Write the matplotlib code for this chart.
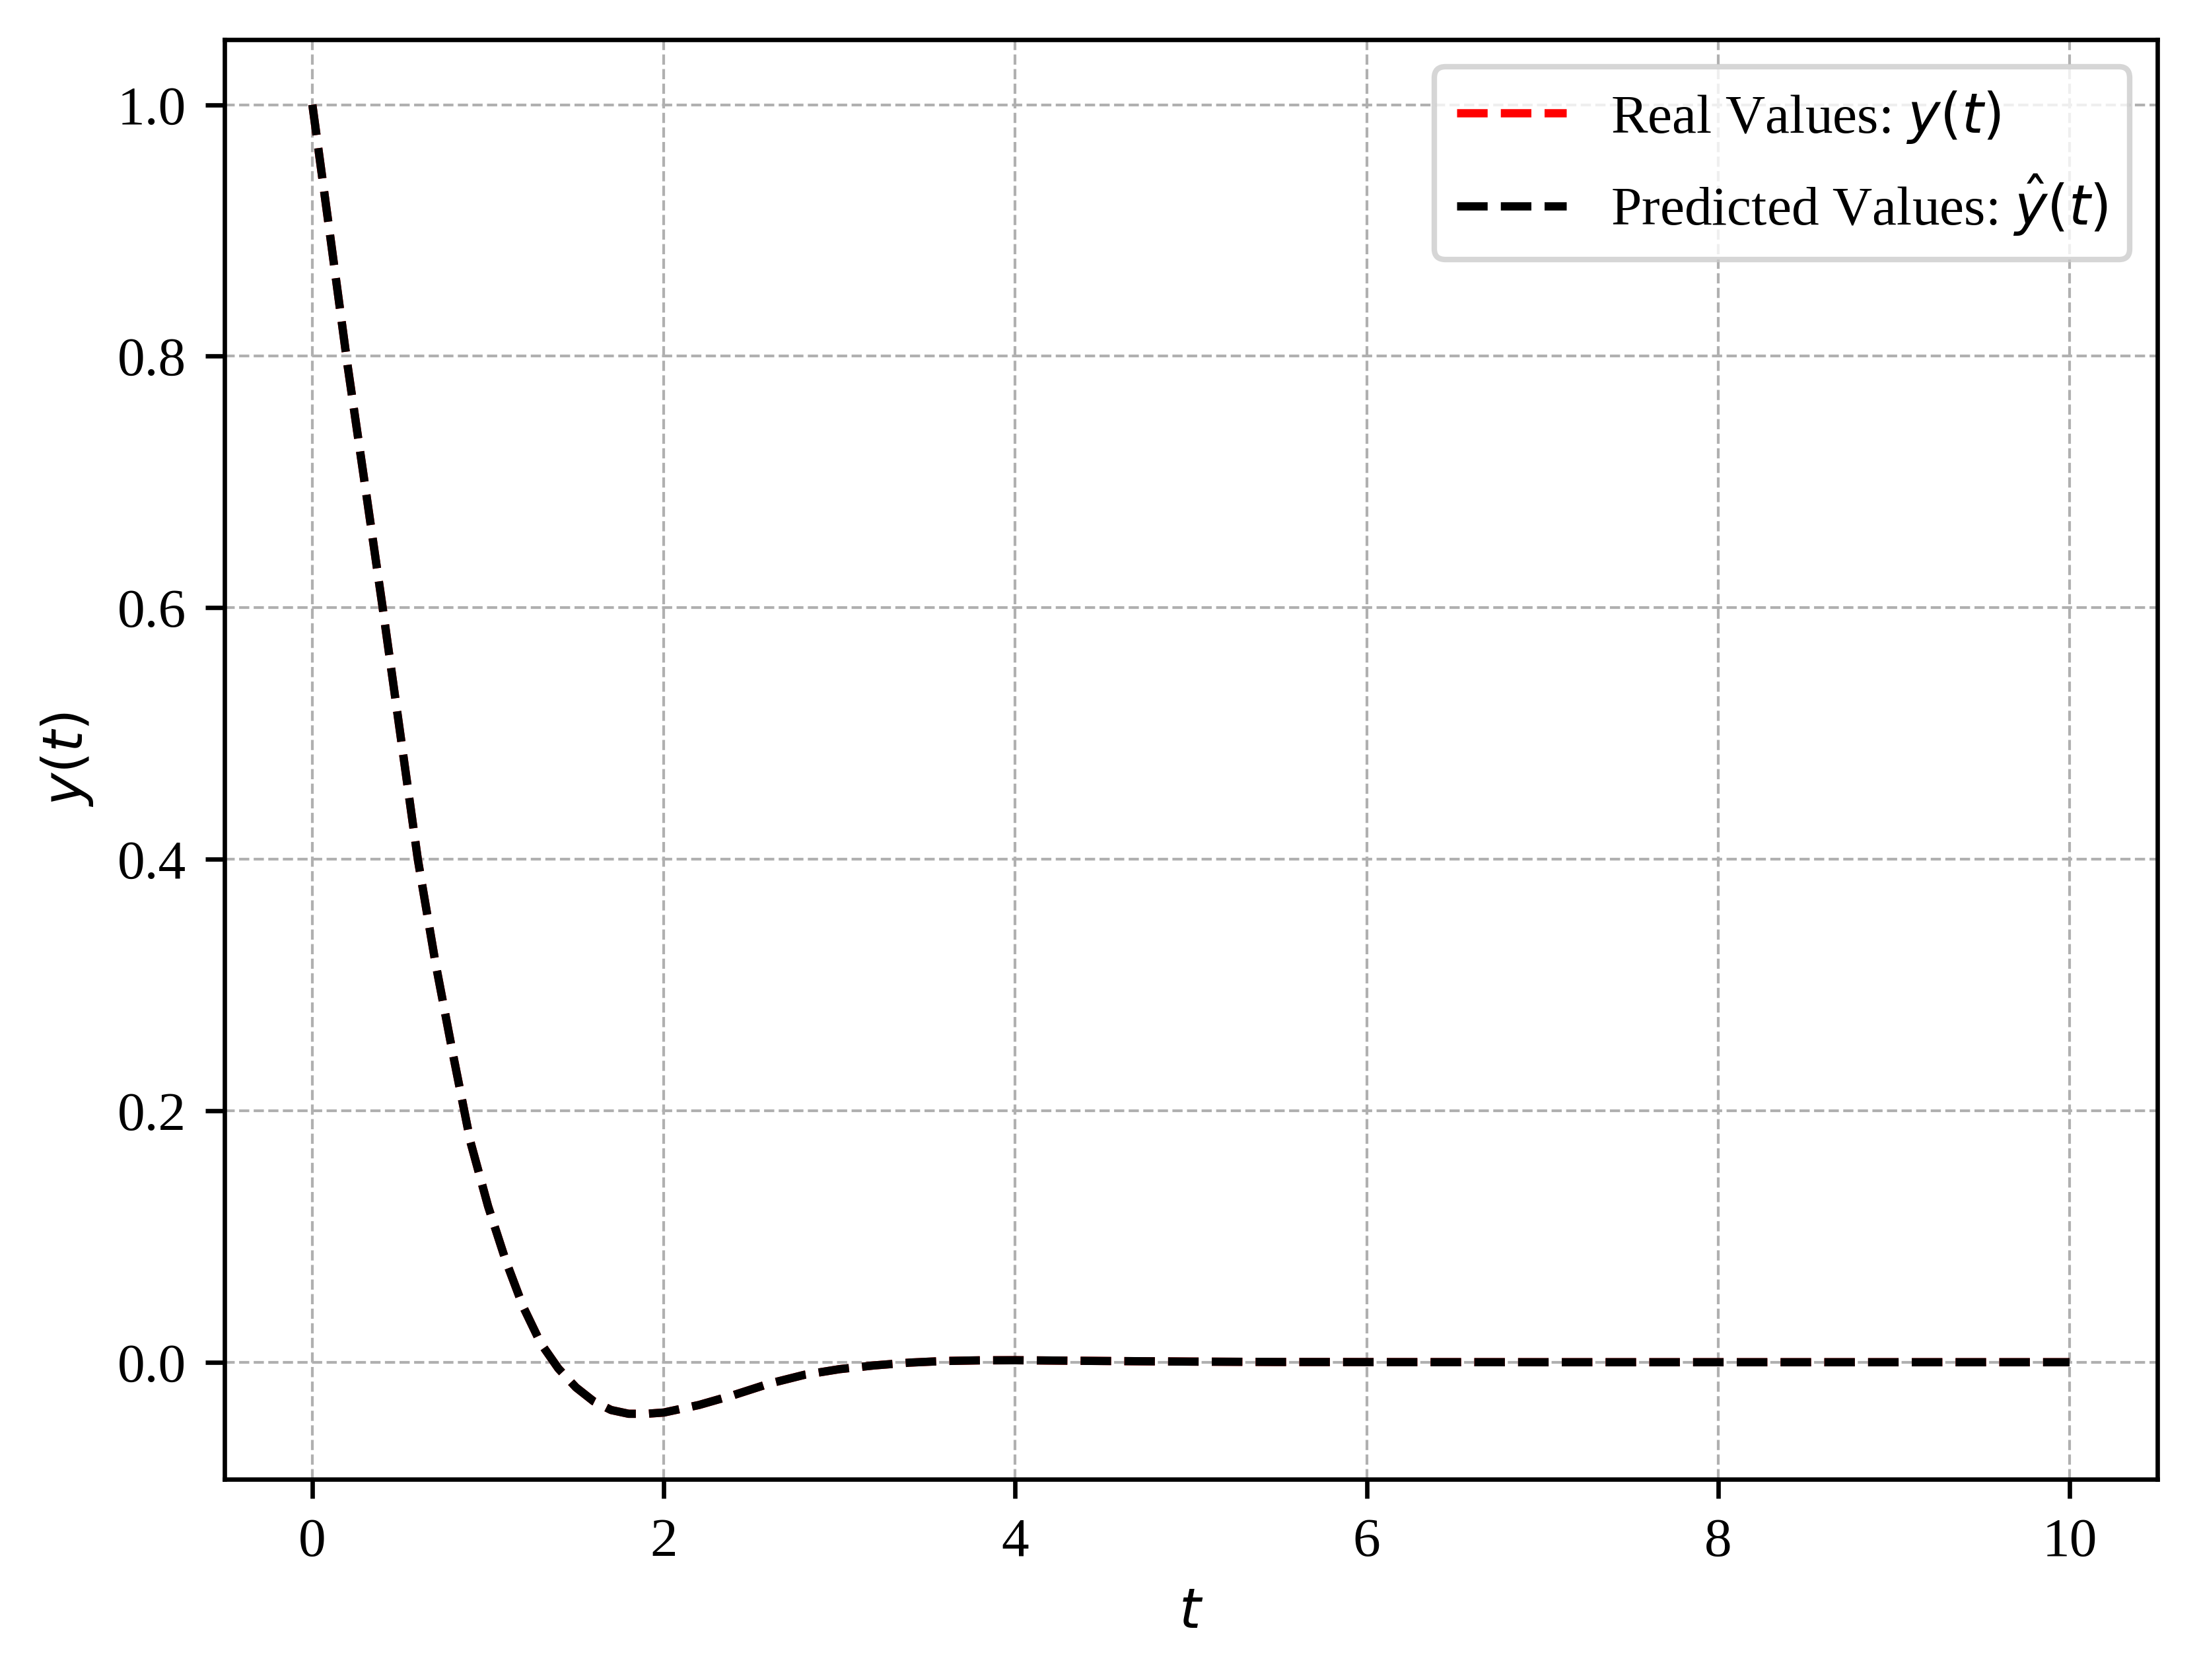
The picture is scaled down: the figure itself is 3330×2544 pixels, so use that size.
"""Damped response: real vs predicted y(t), dashed lines on a grid."""
import matplotlib

matplotlib.use("Agg")
import matplotlib.pyplot as plt

# values
t = [0.0, 0.1, 0.2, 0.3, 0.4, 0.5, 0.6, 0.7, 0.8, 0.9, 1.0, 1.1, 1.2, 1.3, 1.4,
     1.5, 1.6, 1.7, 1.8, 1.9, 2.0, 2.2, 2.4, 2.6, 2.8, 3.0, 3.2, 3.4, 3.6, 3.8,
     4.0, 4.5, 5.0, 5.5, 6.0, 7.0, 8.0, 9.0, 10.0]
y_real = [1.0, 0.897, 0.793, 0.697, 0.600, 0.500, 0.400, 0.318, 0.245, 0.175,
          0.124, 0.081, 0.044, 0.015, -0.005, -0.020, -0.031, -0.038, -0.041,
          -0.041, -0.040, -0.034, -0.026, -0.017, -0.010, -0.0055, -0.0025,
          -0.0003, 0.0010, 0.0015, 0.0016, 0.0010, 0.0005, 0.0002, 0.0001,
          0.0, 0.0, 0.0, 0.0]
y_pred = [1.0, 0.897, 0.793, 0.697, 0.600, 0.500, 0.400, 0.318, 0.245, 0.175,
          0.124, 0.081, 0.044, 0.015, -0.005, -0.020, -0.031, -0.038, -0.041,
          -0.041, -0.040, -0.034, -0.026, -0.017, -0.010, -0.0055, -0.0025,
          -0.0003, 0.0010, 0.0015, 0.0016, 0.0010, 0.0005, 0.0002, 0.0001,
          0.0, 0.0, 0.0, 0.0]

plt.rcParams["font.family"] = "serif"
plt.rcParams["font.serif"] = ["Liberation Serif", "DejaVu Serif"]
plt.rcParams["font.size"] = 10

fig = plt.figure(figsize=(3330 / 600, 2544 / 600), dpi=600)
ax = fig.add_axes([0.1021, 0.1195, 0.9811 - 0.1021, 0.9766 - 0.1195])

ax.plot(t, y_real, "r--", linewidth=1.5, label=r"Real Values: $y(t)$")
ax.plot(t, y_pred, "k--", linewidth=1.5, label=r"Predicted Values: $\hat{y}(t)$")

ax.set_xlabel(r"$t$")
ax.set_ylabel(r"$y(t)$")
ax.grid(True, linestyle="--", linewidth=0.5)
ax.legend(loc="upper right")

fig.savefig("out.png", dpi=600)
